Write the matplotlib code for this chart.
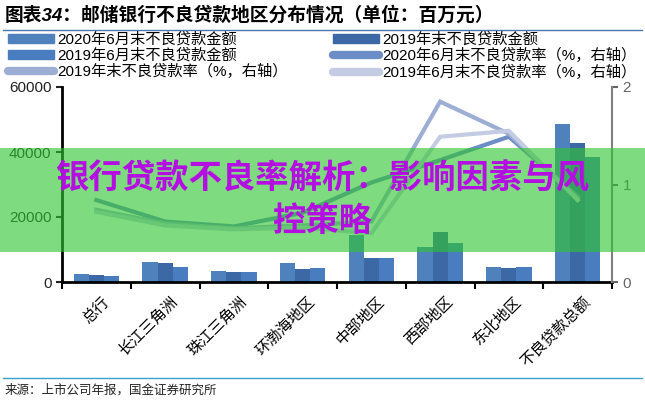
import numpy as np
import matplotlib
matplotlib.use("Agg")
import matplotlib.pyplot as plt
from matplotlib.patches import Rectangle, Patch
from matplotlib.lines import Line2D

plt.rcParams['font.family'] = ['Liberation Sans', 'Noto Sans CJK SC']

cats = ['总行', '长江三角洲', '珠江三角洲', '环渤海地区', '中部地区', '西部地区', '东北地区', '不良贷款总额']

# 不良贷款金额（百万元）
amt_2020h1 = [2400, 6300, 3400, 6000, 14500, 10900, 4600, 48600]
amt_2019ye = [2050, 5700, 3000, 4000, 7300, 15500, 4200, 42700]
amt_2019h1 = [1850, 4700, 3000, 4400, 7300, 12100, 4500, 38400]

# 不良贷款率（%，右轴）
rate_2020h1 = [0.84, 0.62, 0.57, 0.71, 1.02, 1.25, 1.49, 0.88]
rate_2019ye = [0.74, 0.60, 0.55, 0.58, 0.62, 1.85, 1.52, 0.86]
rate_2019h1 = [0.72, 0.58, 0.54, 0.56, 0.50, 1.49, 1.55, 0.84]

bar_labels = ['2020年6月末不良贷款金额', '2019年末不良贷款金额', '2019年6月末不良贷款金额']
line_labels = ['2020年6月末不良贷款率（%，右轴）', '2019年末不良贷款率（%，右轴）',
               '2019年6月末不良贷款率（%，右轴）']

bar_colors = ['#4f81bd', '#3d68a6', '#4a7cc0']
line_colors = ['#6d8dc6', '#9daed4', '#c3cce3']

fig = plt.figure(figsize=(6.45, 4.0), dpi=100)
ax = fig.add_axes([62 / 645, 118 / 400, 550 / 645, 195 / 400])

x = np.arange(len(cats))
w = 0.22
for off, vals, c, lab in zip([-w, 0, w], [amt_2020h1, amt_2019ye, amt_2019h1], bar_colors, bar_labels):
    ax.bar(x + off, vals, w, color=c, label=lab, zorder=2)

ax.set_xlim(-0.5, len(cats) - 0.5)
ax.set_ylim(0, 60000)
ax.set_yticks([0, 20000, 40000, 60000])
ax.tick_params(axis='y', labelsize=11, length=4, width=1.5, colors='#222222')
ax.set_xticks(np.arange(-0.5, len(cats), 1.0))
ax.set_xticklabels([])
ax.tick_params(axis='x', which='major', length=5, width=1.5)
ax.set_xticks(x + 0.08, minor=True)
ax.set_xticklabels(cats, minor=True, rotation=45, ha='right', va='top',
                   rotation_mode='anchor', fontsize=11)
ax.tick_params(axis='x', which='minor', length=0, pad=9)
for s in ['top', 'right']:
    ax.spines[s].set_visible(False)
ax.spines['left'].set_linewidth(2)
ax.spines['bottom'].set_linewidth(2)

ax2 = ax.twinx()
for vals, c, lab in zip([rate_2020h1, rate_2019ye, rate_2019h1], line_colors, line_labels):
    ax2.plot(x, vals, color=c, lw=3, label=lab, solid_joinstyle='miter')
ax2.set_ylim(0, 2)
ax2.set_yticks([0, 1, 2])
ax2.tick_params(axis='y', labelsize=11, length=4, width=1.5, colors='#666666')
for s in ['top', 'left', 'bottom']:
    ax2.spines[s].set_visible(False)
ax2.spines['right'].set_color('#808080')
ax2.spines['right'].set_linewidth(1.5)

# legend, two columns
h_bar = [Patch(color=c) for c in bar_colors]
h_line = [Line2D([], [], color=c, lw=6, solid_capstyle='round') for c in line_colors]
handles = [h_bar[0], h_bar[2], h_line[1], h_bar[1], h_line[0], h_line[2]]
labels = [bar_labels[0], bar_labels[2], line_labels[1], bar_labels[1], line_labels[0], line_labels[2]]
fig.legend(handles, labels, ncol=2, loc='upper left', bbox_to_anchor=(8 / 645, 1 - 32 / 400),
           frameon=False, fontsize=11, handlelength=3.0, handleheight=0.55,
           handletextpad=0.2, columnspacing=3.0, labelspacing=0.1,
           borderpad=0, borderaxespad=0)

# title and source
fig.text(5 / 645, 1 - 15 / 400, '图表34：邮储银行不良贷款地区分布情况（单位：百万元）',
         fontsize=13.5, fontweight='bold', style='italic', va='center', ha='left')
fig.add_artist(Line2D([0.005, 0.995], [1 - 30 / 400] * 2, transform=fig.transFigure,
                      color='#4a78b0', lw=1))
fig.add_artist(Line2D([0.005, 0.995], [1 - 378 / 400] * 2, transform=fig.transFigure,
                      color='#3aa0c8', lw=1))
fig.text(5 / 645, 1 - 390 / 400, '来源：上市公司年报，国金证券研究所', fontsize=9,
         va='center', ha='left', color='#222222')

# overlay banner
fig.add_artist(Rectangle((0, 1 - 252 / 400), 1, 104 / 400, transform=fig.transFigure,
                         color='#30c530', alpha=0.62, lw=0, zorder=10))
fig.text(0.5, 1 - 179 / 400, '银行贷款不良率解析：影响因素与风', fontsize=24,
         fontweight='bold', color='#b40ee2', ha='center', va='center', zorder=11)
fig.text(0.5, 1 - 222 / 400, '控策略', fontsize=24,
         fontweight='bold', color='#b40ee2', ha='center', va='center', zorder=11)

fig.savefig('out.png', dpi=100)
